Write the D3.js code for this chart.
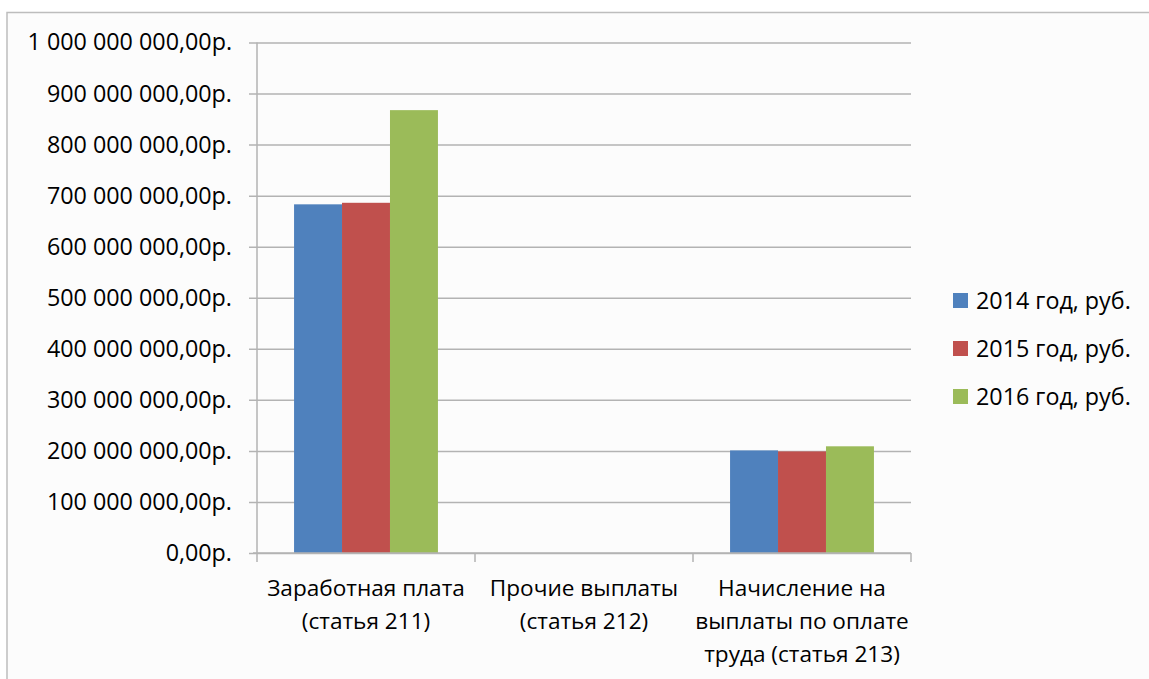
<!DOCTYPE html>
<html>
<head>
<meta charset="utf-8">
<script src="https://cdn.jsdelivr.net/npm/d3@7"></script>
<style>
  html, body { margin: 0; padding: 0; background: #ffffff; }
  svg { display: block; font-family: "Open Sans", "Noto Sans", sans-serif; }
</style>
</head>
<body>
<svg id="chart" width="1149" height="679"></svg>
<script>
// Payroll expenses by budget article, 2014–2016
const categories = [
  ["Заработная плата", "(статья 211)"],
  ["Прочие выплаты", "(статья 212)"],
  ["Начисление на", "выплаты по оплате", "труда (статья 213)"]
];
const seriesNames = ["2014 год, руб.", "2015 год, руб.", "2016 год, руб."];
const seriesColors = ["#4f81bd", "#c0504d", "#9bbb59"];
const values2014 = [683000000, 0, 201000000];
const values2015 = [686000000, 0, 199000000];
const values2016 = [867500000, 0, 209000000];
const yTicks = [0, 100e6, 200e6, 300e6, 400e6, 500e6, 600e6, 700e6, 800e6, 900e6, 1000e6];

const series = [values2014, values2015, values2016];

const svg = d3.select("#chart");
const W = 1149, H = 679;
const plot = { left: 257, right: 911, top: 42.5, bottom: 553 };

// chart area frame
svg.append("rect")
  .attr("x", 7).attr("y", 12.5)
  .attr("width", W + 10).attr("height", H + 10)
  .attr("fill", "#fcfcfc")
  .attr("stroke", "#bdbdbd").attr("stroke-width", 1.5);

const x0 = d3.scaleBand()
  .domain(d3.range(categories.length))
  .range([plot.left, plot.right])
  .paddingInner(0.34).paddingOuter(0.17);
const x1 = d3.scaleBand()
  .domain(d3.range(series.length))
  .range([0, x0.bandwidth()]);
const y = d3.scaleLinear().domain([0, 1000e6]).range([plot.bottom, plot.top]);

const fmt = v => {
  const s = d3.format(",.2f")(v).replace(/,/g, " ").replace(".", ",");
  return s + "р.";
};

// horizontal gridlines with tick stubs on the left
const yAxis = d3.axisLeft(y)
  .tickValues(yTicks)
  .tickSize(-(plot.right - plot.left))
  .tickPadding(0)
  .tickFormat(fmt);
const gy = svg.append("g").attr("transform", `translate(${plot.left},0)`).call(yAxis);
gy.select(".domain").remove();
gy.selectAll(".tick line")
  .attr("x1", -8)
  .attr("stroke", "#b3b3b3").attr("stroke-width", 1.5);
gy.selectAll(".tick text")
  .attr("x", -25)
  .attr("fill", "#000")
  .style("font-size", "23.3px")
  .style("font-family", "'Open Sans', sans-serif");

// vertical axis line
svg.append("line")
  .attr("x1", plot.left).attr("x2", plot.left)
  .attr("y1", plot.top).attr("y2", plot.bottom)
  .attr("stroke", "#b3b3b3").attr("stroke-width", 1.5);

// bars
const groups = svg.append("g").selectAll("g")
  .data(categories.map((c, i) => i))
  .join("g")
  .attr("transform", i => `translate(${x0(i)},0)`);
groups.selectAll("rect")
  .data(i => series.map((s, k) => ({ k, v: s[i] })))
  .join("rect")
  .attr("x", d => x1(d.k))
  .attr("width", x1.bandwidth())
  .attr("y", d => y(d.v))
  .attr("height", d => y(0) - y(d.v))
  .attr("fill", d => seriesColors[d.k]);

// horizontal category axis
svg.append("line")
  .attr("x1", plot.left - 4).attr("x2", plot.right)
  .attr("y1", plot.bottom).attr("y2", plot.bottom)
  .attr("stroke", "#b3b3b3").attr("stroke-width", 1.5);
const step = x0.step();
d3.range(categories.length + 1).forEach(i => {
  const xx = plot.left + i * step;
  svg.append("line")
    .attr("x1", xx).attr("x2", xx)
    .attr("y1", plot.bottom).attr("y2", plot.bottom + 9)
    .attr("stroke", "#b3b3b3").attr("stroke-width", 1.5);
});

// category labels
categories.forEach((lines, i) => {
  const cx = x0(i) + x0.bandwidth() / 2;
  const t = svg.append("text")
    .attr("text-anchor", "middle")
    .attr("fill", "#000")
    .style("font-size", "22.6px");
  lines.forEach((ln, j) => {
    t.append("tspan")
      .attr("x", cx)
      .attr("y", 588 + j * 33)
      .attr("dy", "0.35em")
      .text(ln);
  });
});

// legend
const legend = svg.append("g").selectAll("g")
  .data(seriesNames)
  .join("g")
  .attr("transform", (d, i) => `translate(953,${300.5 + i * 48})`);
legend.append("rect")
  .attr("x", 0).attr("y", -7.5)
  .attr("width", 15).attr("height", 15)
  .attr("fill", (d, i) => seriesColors[i]);
legend.append("text")
  .attr("x", 23).attr("dy", "0.35em")
  .attr("fill", "#000")
  .style("font-size", "23.3px")
  .text(d => d);
</script>
</body>
</html>
